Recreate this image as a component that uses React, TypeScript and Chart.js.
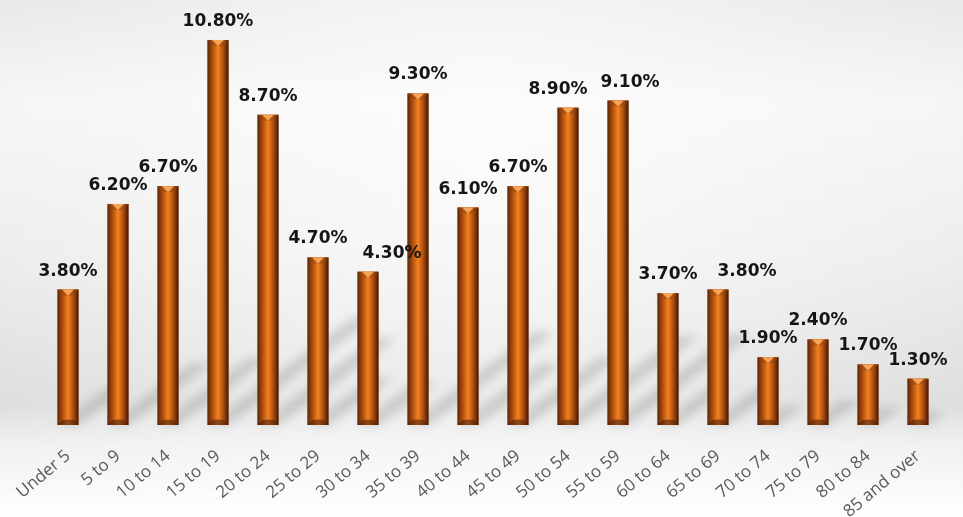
import React, { useEffect, useRef } from "react";
import { Chart, registerables } from "chart.js";

Chart.register(...registerables);

const categories = [
  "Under 5", "5 to 9", "10 to 14", "15 to 19", "20 to 24", "25 to 29",
  "30 to 34", "35 to 39", "40 to 44", "45 to 49", "50 to 54", "55 to 59",
  "60 to 64", "65 to 69", "70 to 74", "75 to 79", "80 to 84", "85 and over",
];
const percentValues = [
  3.8, 6.2, 6.7, 10.8, 8.7, 4.7, 4.3, 9.3, 6.1, 6.7, 8.9, 9.1, 3.7, 3.8, 1.9, 2.4, 1.7, 1.3,
];
const valueLabels = [
  "3.80%", "6.20%", "6.70%", "10.80%", "8.70%", "4.70%", "4.30%", "9.30%", "6.10%",
  "6.70%", "8.90%", "9.10%", "3.70%", "3.80%", "1.90%", "2.40%", "1.70%", "1.30%",
];

// horizontal nudges (px) applied to a few value labels to avoid collisions, as in the original
const LABEL_NUDGE: Record<number, number> = { 6: 24, 10: -10, 11: 12, 13: 29 };

const backgroundPlugin = {
  id: "bgFill",
  beforeDraw(chart: any) {
    const { ctx, width, height } = chart;
    ctx.save();
    const lg = ctx.createLinearGradient(0, 0, 0, height);
    lg.addColorStop(0, "#e6e6e6");
    lg.addColorStop(0.2, "#f5f5f5");
    lg.addColorStop(0.5, "#ebebeb");
    lg.addColorStop(0.78, "#dcdcdc");
    lg.addColorStop(0.86, "#f0f0f0");
    lg.addColorStop(1, "#ffffff");
    ctx.fillStyle = lg;
    ctx.fillRect(0, 0, width, height);
    const rg = ctx.createRadialGradient(width / 2, height * 0.3, 10, width / 2, height * 0.3, width * 0.6);
    rg.addColorStop(0, "rgba(255,255,255,0.7)");
    rg.addColorStop(1, "rgba(255,255,255,0)");
    ctx.fillStyle = rg;
    ctx.fillRect(0, 0, width, height);
    ctx.restore();
  },
};

const barStylePlugin = {
  id: "barStyle",
  beforeDatasetsDraw(chart: any) {
    const { ctx } = chart;
    const meta = chart.getDatasetMeta(0);
    ctx.save();
    ctx.filter = "blur(5px)";
    ctx.fillStyle = "rgba(0,0,0,0.14)";
    meta.data.forEach((el: any) => {
      const w = el.width;
      const h = el.base - el.y;
      const dx = h * 0.38;
      const dy = h * 0.28;
      ctx.beginPath();
      ctx.moveTo(el.x - w / 2, el.base);
      ctx.lineTo(el.x + w / 2, el.base);
      ctx.lineTo(el.x + w / 2 + dx, el.base - dy);
      ctx.lineTo(el.x - w / 2 + dx, el.base - dy);
      ctx.closePath();
      ctx.fill();
    });
    ctx.restore();
  },
  afterDatasetsDraw(chart: any) {
    const { ctx } = chart;
    const meta = chart.getDatasetMeta(0);
    ctx.save();
    meta.data.forEach((el: any) => {
      const w = el.width;
      const l = el.x - w / 2;
      const r = el.x + w / 2;
      const t = el.y;
      const b = el.base;
      const bv = 6;
      const g = ctx.createLinearGradient(l, 0, r, 0);
      g.addColorStop(0, "#5a2706");
      g.addColorStop(0.2, "#a0460d");
      g.addColorStop(0.5, "#f5821f");
      g.addColorStop(0.78, "#a3470e");
      g.addColorStop(1, "#3c1904");
      ctx.fillStyle = g;
      ctx.fillRect(l, t, w, b - t);
      ctx.beginPath();
      ctx.moveTo(l, t);
      ctx.lineTo(r, t);
      ctx.lineTo(r - bv, t + bv);
      ctx.lineTo(l + bv, t + bv);
      ctx.closePath();
      ctx.fillStyle = "rgba(150,70,15,0.5)";
      ctx.fill();
      ctx.beginPath();
      ctx.moveTo(el.x - 6, t);
      ctx.lineTo(el.x + 6, t);
      ctx.lineTo(el.x, t + bv);
      ctx.closePath();
      ctx.fillStyle = "#f7a458";
      ctx.fill();
      ctx.beginPath();
      ctx.moveTo(l, b);
      ctx.lineTo(r, b);
      ctx.lineTo(r - bv, b - bv);
      ctx.lineTo(l + bv, b - bv);
      ctx.closePath();
      ctx.fillStyle = "rgba(80,35,8,0.6)";
      ctx.fill();
      ctx.strokeStyle = "rgba(230,140,70,0.5)";
      ctx.lineWidth = 1;
      ctx.beginPath();
      ctx.moveTo(l + bv, b - bv + 0.5);
      ctx.lineTo(r - bv, b - bv + 0.5);
      ctx.stroke();
    });
    ctx.font = "bold 17px 'DejaVu Sans'";
    ctx.fillStyle = "#151515";
    ctx.textAlign = "center";
    ctx.textBaseline = "alphabetic";
    meta.data.forEach((el: any, i: number) => {
      const nudge = LABEL_NUDGE[i] || 0;
      ctx.fillText(valueLabels[i], el.x + nudge, el.y - 14);
    });
    ctx.restore();
  },
};

export default function App() {
  const canvasRef = useRef<HTMLCanvasElement | null>(null);

  useEffect(() => {
    document.body.style.margin = "0";
    const canvas = canvasRef.current;
    if (!canvas) return;
    const chart = new Chart(canvas, {
      type: "bar",
      data: {
        labels: categories,
        datasets: [
          {
            data: percentValues,
            backgroundColor: "#c85e18",
            borderWidth: 0,
            barPercentage: 0.42,
            categoryPercentage: 1,
          },
        ],
      },
      options: {
        responsive: false,
        animation: false,
        layout: { padding: { left: 43, right: 20, top: 15, bottom: 0 } },
        plugins: {
          legend: { display: false },
          tooltip: { enabled: false },
        },
        scales: {
          x: {
            grid: { display: false },
            border: { display: false },
            ticks: {
              color: "#595959",
              font: { family: "'Open Sans'", size: 17 },
              minRotation: 40,
              maxRotation: 40,
              padding: 13,
              autoSkip: false,
            },
            afterFit: (s: any) => {
              s.height = 92;
            },
          },
          y: {
            display: false,
            min: 0,
            max: 11.5,
          },
        },
      },
      plugins: [backgroundPlugin, barStylePlugin],
    });
    return () => chart.destroy();
  }, []);

  return (
    <div style={{ width: 963, height: 517 }}>
      <canvas ref={canvasRef} width={963} height={517} style={{ display: "block" }} />
    </div>
  );
}
